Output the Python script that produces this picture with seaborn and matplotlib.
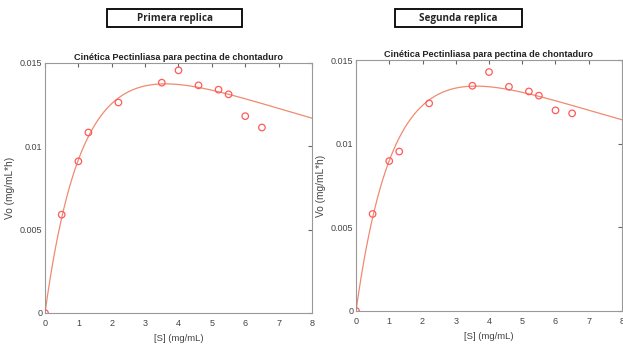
import numpy as np
import pandas as pd
import matplotlib
matplotlib.use("Agg")
import matplotlib.pyplot as plt
from matplotlib.patches import Rectangle
import seaborn as sns

# Substrate concentration (mg/mL)
s_values = [0, 0.5, 1, 1.3, 2.2, 3.5, 4, 4.6, 5.2, 5.5, 6, 6.5]
# Initial rates, first replicate
vo_rep1 = [0, 0.0059, 0.0091, 0.01083, 0.01263, 0.01382, 0.01456, 0.01366, 0.0134, 0.01312, 0.01181, 0.01113]
# Initial rates, second replicate
vo_rep2 = [0, 0.0058, 0.00896, 0.00953, 0.01241, 0.01346, 0.01428, 0.0134, 0.01312, 0.01287, 0.01199, 0.01181]

# substrate inhibition fit parameters: Vmax, Km, Ki
fit_rep1 = [0.0290, 2.0, 6.5]
fit_rep2 = [0.02835, 2.0, 6.5]

panel_names = ["Primera replica", "Segunda replica"]
chart_title = "Cinética Pectinliasa para pectina de chontaduro"

sns.set_style("white")
plt.rcParams["font.family"] = ["Liberation Sans", "DejaVu Sans"]

W, H = 623, 347
fig = plt.figure(figsize=(W / 100, H / 100), dpi=100)
axes_pos = [[45 / W, 34 / H, 267 / W, 250 / H], [356 / W, 36 / H, 266 / W, 251 / H]]
# header boxes in pixels: left, top, right, bottom
boxes = [[107, 9, 242, 27], [395, 9, 522, 27]]

s_fit = np.linspace(0, 8, 300)
for i, (vo, fit) in enumerate([(vo_rep1, fit_rep1), (vo_rep2, fit_rep2)]):
    ax = fig.add_axes(axes_pos[i])
    df = pd.DataFrame({"S": s_values, "Vo": vo})
    vmax, km, ki = fit
    curve = pd.DataFrame({"S": s_fit, "Vo": vmax * s_fit / (km + s_fit + s_fit ** 2 / ki)})
    sns.lineplot(data=curve, x="S", y="Vo", ax=ax, color="#f08a70", linewidth=0.9)
    sns.scatterplot(data=df, x="S", y="Vo", ax=ax, marker="o", s=22,
                    facecolors="none", edgecolor="#ff5a5a", linewidth=0.9, zorder=3)
    ax.set_xlim(0, 8)
    ax.set_ylim(0, 0.015)
    ax.set_xticks(range(0, 9))
    ax.set_yticks([0, 0.005, 0.01, 0.015])
    ax.set_yticklabels(["0", "0.005", "0.01", "0.015"])
    ax.tick_params(direction="in", length=3, top=True, right=True,
                   labelsize=6.5, colors="#666666", labelcolor="#444444", pad=2)
    ax.tick_params(axis="x", pad=4)
    for sp in ax.spines.values():
        sp.set_color("#999999")
        sp.set_linewidth(0.8)
    ax.set_xlabel("[S] (mg/mL)", fontsize=6.8, color="#444444")
    ax.xaxis.set_label_coords(0.5, -0.085)
    ax.set_ylabel("Vo (mg/mL*h)", fontsize=7.3, color="#444444")
    ax.yaxis.set_label_coords(-30 / 267, 0.5)
    ax.set_title(chart_title, fontsize=6.6, fontweight="bold", color="#222222", pad=2)

    bl, bt, br, bb = boxes[i]
    fig.patches.append(Rectangle((bl / W, 1 - bb / H), (br - bl) / W, (bb - bt) / H,
                                 transform=fig.transFigure, facecolor="white",
                                 edgecolor="black", linewidth=1.3))
    fig.text((bl + br) / 2 / W, 1 - (bt + bb) / 2 / H, panel_names[i], ha="center",
             va="center", fontsize=7.1, fontweight="bold",
             family=["Open Sans", "DejaVu Sans"], zorder=5)

fig.savefig("out.png", dpi=100)
